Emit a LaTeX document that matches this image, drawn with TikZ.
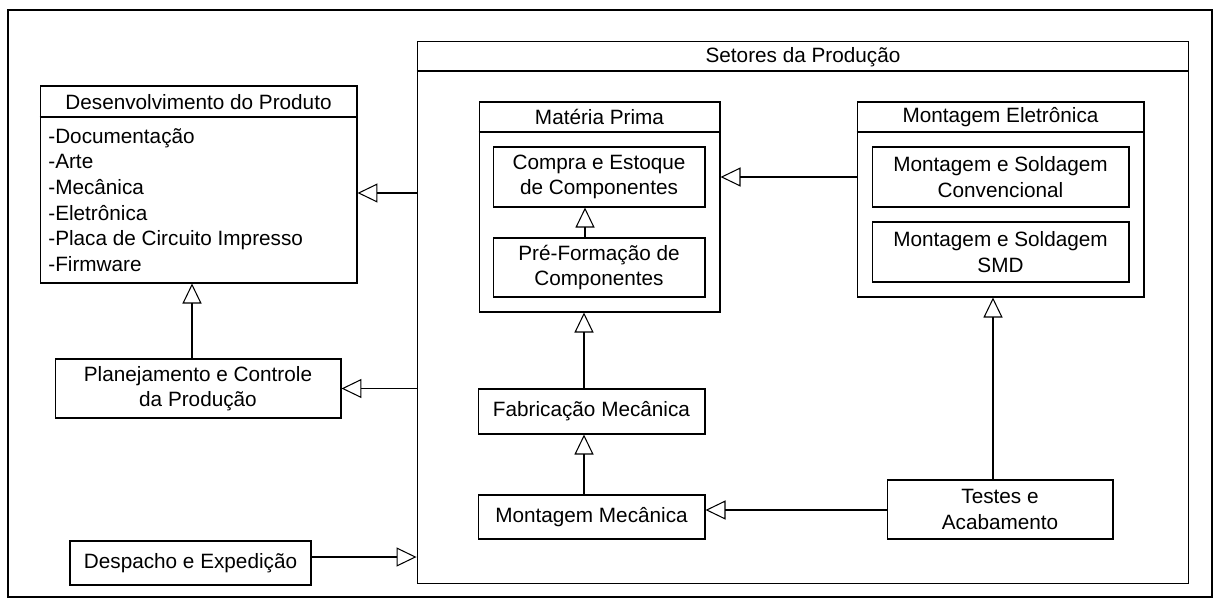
\documentclass[tikz,border=0pt]{standalone}
\usepackage{fontspec}
\setmainfont{Liberation Sans}
\usetikzlibrary{arrows.meta}

\begin{document}
\begin{tikzpicture}[x=0.02cm,y=-0.02cm,
  caixa/.style={draw,line width=0.6pt,inner sep=0pt,align=center,font=\fontsize{11.8}{14.4}\selectfont},
  titulo/.style={inner sep=0pt,font=\fontsize{11.8}{14.4}\selectfont},
  heranca/.style={line width=0.6pt,-{Triangle[open,length=0.4cm,width=0.38cm,fill=white]}}]
  \useasboundingbox (0,0) rectangle (1220,608);
  \draw[line width=1.2pt] (8,10) rectangle (1212,597);
  % Setores da Producao
  \node[caixa,minimum width=15.44cm,minimum height=10.86cm] (setores) at (803,312.5) {};
  \node[titulo] (tsetores) at (803,57) {Setores da Produção};
  \draw[line width=0.6pt] (setores.west |- 0,71) -- (setores.east |- 0,71);
  % Desenvolvimento do Produto
  \node[caixa,minimum width=6.34cm,minimum height=3.94cm] (desenv) at (198.5,184.5) {};
  \node[titulo] (tdesenv) at (198.5,102) {Desenvolvimento do Produto};
  \draw[line width=0.6pt] (desenv.west |- 0,117) -- (desenv.east |- 0,117);
  \node[titulo,anchor=west,align=left,font=\fontsize{11.8}{14.6}\selectfont] (itens) at (48,200)
    {-Documentação\\-Arte\\-Mecânica\\-Eletrônica\\-Placa de Circuito Impresso\\-Firmware};
  % caixas da esquerda
  \node[caixa,minimum width=5.72cm,minimum height=1.18cm] (planej) at (198,388.5)
    {Planejamento e Controle\\da Produção};
  \node[caixa,minimum width=4.82cm,minimum height=0.88cm] (despacho) at (190.5,563)
    {Despacho e Expedição};
  % Materia Prima
  \node[caixa,minimum width=4.82cm,minimum height=4.2cm] (materia) at (599.5,207) {};
  \node[titulo] (tmateria) at (599.5,117) {Matéria Prima};
  \draw[line width=0.6pt] (materia.west |- 0,132) -- (materia.east |- 0,132);
  \node[caixa,minimum width=4.24cm,minimum height=1.2cm] (compra) at (599,177)
    {Compra e Estoque\\de Componentes};
  \node[caixa,minimum width=4.24cm,minimum height=1.18cm] (preform) at (599,267.5)
    {Pré-Formação de\\Componentes};
  % Montagem Eletronica
  \node[caixa,minimum width=5.74cm,minimum height=3.9cm] (monteletr) at (1000.5,199.5) {};
  \node[titulo] (tmonteletr) at (1000.5,117) {Montagem Eletrônica};
  \draw[line width=0.6pt] (monteletr.west |- 0,132) -- (monteletr.east |- 0,132);
  \node[caixa,minimum width=5.14cm,minimum height=1.2cm] (conv) at (1000.5,177)
    {Montagem e Soldagem\\Convencional};
  \node[caixa,minimum width=5.14cm,minimum height=1.2cm] (smd) at (1000.5,252)
    {Montagem e Soldagem\\SMD};
  % mecanica e testes
  \node[caixa,minimum width=4.54cm,minimum height=0.9cm] (fab) at (591.5,411.5)
    {Fabricação Mecânica};
  \node[caixa,minimum width=4.54cm,minimum height=0.88cm] (montmec) at (591.5,517)
    {Montagem Mecânica};
  \node[caixa,minimum width=4.52cm,minimum height=1.18cm] (testes) at (1000,509.5)
    {Testes e\\Acabamento};
  % ligacoes
  \draw[heranca] (setores.west |- 0,193) -- (desenv.east |- 0,193);
  \draw[heranca] (setores.west |- planej) -- (planej);
  \draw[heranca] (planej.north -| 192,0) -- (desenv.south -| 192,0);
  \draw[heranca] (despacho.east |- 0,557) -- (setores.west |- 0,557);
  \draw[heranca] (monteletr.west |- compra) -- (materia.east |- compra);
  \draw[heranca] (preform.north -| 585,0) -- (compra.south -| 585,0);
  \draw[heranca] (fab.north -| 584,0) -- (materia.south -| 584,0);
  \draw[heranca] (montmec.north -| 584,0) -- (fab.south -| 584,0);
  \draw[heranca] (testes.west |- 0,510) -- (montmec.east |- 0,510);
  \draw[heranca] (testes.north -| 993,0) -- (monteletr.south -| 993,0);
\end{tikzpicture}
\end{document}
